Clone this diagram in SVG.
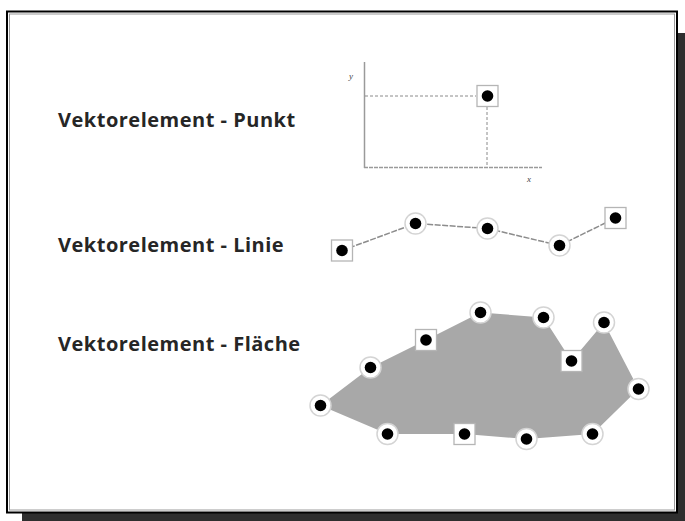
<svg xmlns="http://www.w3.org/2000/svg" width="685" height="521" viewBox="0 0 685 521">
  <style>
    .label { font-family: "Open Sans", "Noto Sans", "Liberation Sans", sans-serif; font-weight: bold; font-size: 20px; letter-spacing: 0.5px; fill: #262626; }
    .axislbl { font-family: "Liberation Serif", serif; font-style: italic; font-size: 9px; fill: #444; }
    .axis { stroke: #9a9a9a; stroke-width: 1.5; fill: none; }
    .guide { stroke: #8a8a8a; stroke-width: 1; stroke-dasharray: 3 2; fill: none; }
    .edge { stroke: #8c8c8c; stroke-width: 1.5; stroke-dasharray: 6 1.5; fill: none; }
    .halo { fill: #fff; stroke: #d4d4d4; stroke-width: 1.5; }
    .box { fill: #fff; stroke: #b5b5b5; stroke-width: 1.3; }
    .dot { fill: #000; }
  </style>
  <defs>
    <g id="vertex">
      <circle class="halo" r="10.5"/>
      <circle class="dot" r="5.8"/>
    </g>
    <g id="node">
      <rect class="box" x="-10.5" y="-10.5" width="21" height="21"/>
      <circle class="dot" r="5.8"/>
    </g>
  </defs>

  <!-- sheet with drop shadow -->
  <rect x="22" y="33" width="663" height="488" fill="#2e2e2e"/>
  <rect x="7" y="11.5" width="670" height="501" fill="#fff" stroke="#000" stroke-width="2"/>
  <rect x="9.5" y="14" width="665" height="496" fill="none" stroke="#9a9a9a" stroke-width="1"/>

  <!-- labels -->
  <text class="label" x="58" y="127">Vektorelement - Punkt</text>
  <text class="label" x="58" y="252">Vektorelement - Linie</text>
  <text class="label" x="58" y="351">Vektorelement - Fläche</text>

  <!-- point: coordinate system -->
  <g id="punkt">
    <line class="axis" x1="364.5" y1="62" x2="364.5" y2="168"/>
    <line class="axis" x1="364" y1="167.5" x2="542" y2="167.5" stroke-dasharray="4 1"/>
    <line class="guide" x1="365" y1="96" x2="476" y2="96"/>
    <line class="guide" x1="487" y1="107" x2="487" y2="167"/>
    <text class="axislbl" x="349" y="79">y</text>
    <text class="axislbl" x="527" y="182">x</text>
    <use href="#node" x="487.5" y="96"/>
  </g>

  <!-- line element -->
  <g id="connectors">
    <polyline class="edge" points="342,250.5 415.5,223.5 487.5,228.5 559.5,245.5 615.5,218"/>
  </g>
  <g id="linie">
    <use href="#node" x="342" y="250.5"/>
    <use href="#vertex" x="415.5" y="223.5"/>
    <use href="#vertex" x="487.5" y="228.5"/>
    <use href="#vertex" x="559.5" y="245.5"/>
    <use href="#node" x="615.5" y="218"/>
  </g>

  <!-- area element -->
  <g id="flaeche">
    <polygon fill="#a8a8a8" points="320.5,405.5 370.5,367.5 426,340 480.5,312.5 543.5,317.5 571.5,361 604,322.5 638.5,389 592.5,434 526.5,439 464.5,434 387.5,434"/>
    <use href="#vertex" x="320.5" y="405.5"/>
    <use href="#vertex" x="370.5" y="367.5"/>
    <use href="#node" x="426" y="340"/>
    <use href="#vertex" x="480.5" y="312.5"/>
    <use href="#vertex" x="543.5" y="317.5"/>
    <use href="#node" x="571.5" y="361"/>
    <use href="#vertex" x="604" y="322.5"/>
    <use href="#vertex" x="638.5" y="389"/>
    <use href="#vertex" x="592.5" y="434"/>
    <use href="#vertex" x="526.5" y="439"/>
    <use href="#node" x="464.5" y="434"/>
    <use href="#vertex" x="387.5" y="434"/>
  </g>
</svg>
